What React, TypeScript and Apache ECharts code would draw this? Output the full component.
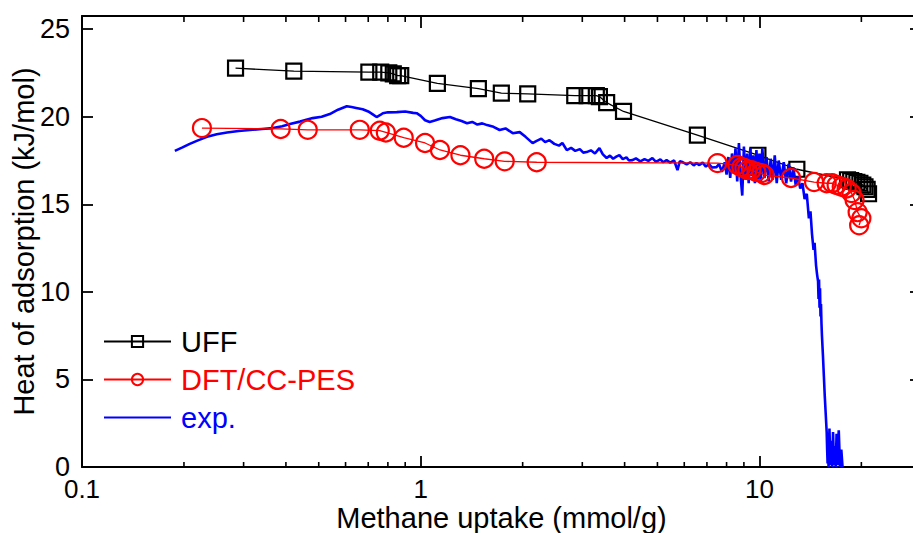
import React, { useEffect, useRef } from "react";
import * as echarts from "echarts";

const uffX = [0.284, 0.422, 0.703, 0.762, 0.805, 0.83, 0.855, 0.873, 1.12, 1.48, 1.73, 2.07, 2.85, 3.1, 3.3, 3.37, 3.54, 3.97, 6.56, 9.9, 12.9, 18.2, 18.6, 19.0, 19.4, 19.8, 20.2, 20.5, 20.8, 21.0];
const uffY = [22.77, 22.6, 22.55, 22.55, 22.5, 22.45, 22.35, 22.35, 21.9, 21.6, 21.35, 21.3, 21.2, 21.2, 21.2, 21.15, 20.8, 20.3, 18.95, 17.8, 17.0, 16.4, 16.35, 16.3, 16.25, 16.2, 16.1, 16.0, 15.85, 15.6];

const dftX = [0.226, 0.386, 0.464, 0.661, 0.757, 0.789, 0.891, 1.03, 1.14, 1.31, 1.54, 1.77, 2.2, 7.52, 8.61, 8.85, 9.03, 9.22, 9.47, 9.8, 10.14, 10.35, 12.4, 14.5, 15.8, 16.4, 16.9, 17.5, 18.1, 18.7, 19.1, 19.5, 20.0, 19.7];
const dftY = [19.35, 19.3, 19.25, 19.25, 19.2, 19.1, 18.8, 18.5, 18.1, 17.8, 17.6, 17.45, 17.4, 17.35, 17.24, 17.12, 17.07, 16.95, 16.95, 16.84, 16.78, 16.67, 16.5, 16.27, 16.2, 16.2, 16.1, 16.0, 15.9, 15.64, 15.24, 14.55, 14.2, 13.8];

const expX = [0.188, 0.198, 0.208, 0.22, 0.234, 0.25, 0.268, 0.29, 0.313, 0.34, 0.366, 0.39, 0.411, 0.44, 0.48, 0.51, 0.539, 0.57, 0.605, 0.625, 0.645, 0.674, 0.7, 0.72, 0.741, 0.76, 0.773, 0.8, 0.85, 0.9, 0.95, 0.973, 1.0, 1.03, 1.063, 1.1, 1.16, 1.22, 1.27, 1.32, 1.37, 1.42, 1.47, 1.52, 1.57, 1.64, 1.71, 1.78, 1.87, 1.96, 2.04, 2.14, 2.2, 2.27, 2.33, 2.4, 2.48, 2.56, 2.62, 2.7, 2.78, 2.86, 2.95, 3.02, 3.09, 3.18, 3.27, 3.37, 3.45, 3.54, 3.62, 3.7, 3.78, 3.86, 3.95, 4.05, 4.12, 4.22, 4.32, 4.45, 4.58, 4.7, 4.83, 4.95, 5.1, 5.2, 5.32, 5.45, 5.6, 5.73, 5.82, 5.93, 6.1, 6.25, 6.4, 6.52, 6.65, 6.8, 6.95, 7.1, 7.25, 7.47, 7.6, 7.75, 7.9, 8.0, 8.1, 8.2, 8.3, 8.4, 8.5, 8.6, 8.7, 8.8, 8.9, 9.0, 9.1, 9.2, 9.3, 9.4, 9.5, 9.6, 9.7, 9.8, 9.9, 10.0, 10.1, 10.2, 10.35, 10.5, 10.65, 10.8, 10.95, 11.1, 11.25, 11.4, 11.6, 11.8, 12.0, 12.2, 12.4, 12.6, 12.8, 13.0, 13.2, 13.4, 13.6, 13.8, 14.0, 14.15, 14.3, 14.45, 14.55, 14.7, 14.8, 14.9, 14.95, 15.0, 15.05, 15.1, 15.15, 15.2, 15.25, 15.3, 15.4, 15.5, 15.6, 15.7, 15.8, 15.85, 15.9, 15.95, 16.0, 16.1, 16.2, 16.3, 16.4, 16.5, 16.6, 16.7, 16.8, 16.9, 17.0, 17.15, 17.3, 17.45, 17.6];
const expY = [18.05, 18.25, 18.45, 18.65, 18.85, 19.0, 19.1, 19.18, 19.24, 19.3, 19.35, 19.45, 19.58, 19.72, 19.92, 20.0, 20.15, 20.4, 20.6, 20.55, 20.5, 20.43, 20.3, 20.15, 19.98, 20.1, 20.2, 20.25, 20.26, 20.3, 20.22, 20.2, 20.05, 19.8, 19.7, 19.78, 19.92, 19.98, 19.85, 19.75, 19.63, 19.7, 19.55, 19.62, 19.52, 19.42, 19.24, 19.33, 19.06, 19.12, 18.85, 18.49, 18.62, 18.75, 18.55, 18.66, 18.45, 18.35, 18.5, 18.09, 18.22, 18.05, 18.15, 17.95, 17.98, 18.08, 17.9, 18.21, 17.85, 17.64, 17.78, 17.6, 17.72, 17.81, 17.58, 17.68, 17.5, 17.52, 17.62, 17.45, 17.58, 17.48, 17.64, 17.42, 17.56, 17.4, 17.52, 17.38, 17.5, 16.95, 17.45, 17.41, 17.28, 17.4, 17.22, 17.35, 17.24, 17.38, 17.15, 17.3, 17.1, 17.12, 17.3, 16.85, 17.4, 16.7, 17.7, 16.5, 17.9, 16.8, 18.2, 16.3, 18.5, 16.6, 15.5, 18.3, 16.4, 17.9, 16.2, 18.2, 16.6, 17.8, 16.2, 18.1, 16.4, 17.9, 16.3, 18.2, 16.5, 17.7, 16.3, 17.6, 16.4, 17.8, 16.2, 17.5, 16.4, 17.4, 16.2, 17.3, 16.3, 17.1, 16.1, 16.6, 15.9, 16.2, 15.3, 15.6, 14.2, 14.6, 13.3, 12.4, 12.8, 11.5, 11.0, 10.6, 9.6, 10.7, 9.1, 10.2, 8.6, 9.3, 8.2, 7.5, 6.4, 5.2, 4.0, 3.0, 2.0, 1.0, 0.2, 1.8, 0.0, 2.2, 0.1, 1.5, 0.0, 2.0, 0.1, 1.2, 0.0, 1.9, 0.1, 2.1, 0.0, 1.0, 0.0];

const minorTicks = [0.2, 0.3, 0.4, 0.5, 0.6, 0.7, 0.8, 0.9, 2, 3, 4, 5, 6, 7, 8, 9, 20];

const FONT = "'Liberation Sans', Arial, Helvetica, sans-serif";

const zip = (xs: number[], ys: number[]) => xs.map((x, i) => [x, ys[i]]);

export default function App() {
  const ref = useRef<HTMLDivElement>(null);
  useEffect(() => {
    if (!ref.current) return;
    const chart = echarts.init(ref.current, undefined, { renderer: "svg" });
    const option: any = {
      animation: false,
      backgroundColor: "#ffffff",
      textStyle: { fontFamily: FONT },
      grid: { left: 82, right: -8, top: 16, bottom: 66, containLabel: false, outerBoundsMode: "none" },
      legend: {
        orient: "vertical",
        left: 98,
        top: 322,
        itemGap: 9,
        itemWidth: 67,
        itemHeight: 14,
        textStyle: { fontSize: 29, fontFamily: FONT, padding: [0, 0, 0, 5] },
        data: [
          { name: "UFF", textStyle: { color: "#000000" } },
          { name: "DFT/CC-PES", textStyle: { color: "#ff0000" } },
          { name: "exp.", textStyle: { color: "#0000ff" } },
        ],
      },
      xAxis: [
        {
          type: "log",
          logBase: 10,
          min: 0.1,
          max: 30,
          position: "bottom",
          name: "Methane uptake (mmol/g)",
          nameLocation: "middle",
          nameGap: 39,
          nameMoveOverlap: false,
          nameTextStyle: { fontSize: 29, lineHeight: 24, color: "#000", fontFamily: FONT },
          axisLine: { show: true, onZero: false, lineStyle: { color: "#000", width: 2 } },
          axisTick: { show: true, inside: true, length: 11, lineStyle: { color: "#000", width: 1.8 } },
          axisLabel: { fontSize: 26, lineHeight: 22, color: "#000", margin: 11, showMaxLabel: false, fontFamily: FONT },
          splitLine: { show: false },
        },
        {
          type: "log",
          logBase: 10,
          min: 0.1,
          max: 30,
          position: "top",
          axisLine: { show: true, onZero: false, lineStyle: { color: "#000", width: 2 } },
          axisTick: { show: true, inside: true, length: 12, lineStyle: { color: "#000", width: 1.8 } },
          axisLabel: { show: false },
          splitLine: { show: false },
        },
      ],
      yAxis: [
        {
          type: "value",
          min: 0,
          max: 25.75,
          interval: 5,
          position: "left",
          name: "Heat of adsorption (kJ/mol)",
          nameLocation: "middle",
          nameGap: 44,
          nameRotate: 90,
          nameMoveOverlap: false,
          nameTextStyle: { fontSize: 29, color: "#000", fontFamily: FONT },
          axisLine: { show: true, onZero: false, lineStyle: { color: "#000", width: 2 } },
          axisTick: { show: true, inside: true, length: 11, lineStyle: { color: "#000", width: 1.8 } },
          axisLabel: { fontSize: 27, lineHeight: 20, color: "#000", margin: 12, showMaxLabel: false, fontFamily: FONT },
          splitLine: { show: false },
        },
        {
          type: "value",
          min: 0,
          max: 25.75,
          interval: 5,
          position: "right",
          axisLine: { show: true, onZero: false, lineStyle: { color: "#000", width: 2 } },
          axisTick: { show: true, inside: true, length: 11, lineStyle: { color: "#000", width: 1.8 } },
          axisLabel: { show: false },
          splitLine: { show: false },
        },
      ],
      series: [
        {
          name: "minor",
          type: "custom",
          xAxisIndex: 0,
          yAxisIndex: 0,
          silent: true,
          data: minorTicks.map((v) => [v, 0]),
          encode: { x: 0, y: 1 },
          renderItem: (params: any, api: any) => {
            const p = api.coord([api.value(0), 0]);
            const cs = params.coordSys;
            const bottom = cs.y + cs.height;
            return {
              type: "group",
              children: [
                { type: "line", shape: { x1: p[0], y1: bottom, x2: p[0], y2: bottom - 5 }, style: { stroke: "#000", lineWidth: 1.6 } },
                { type: "line", shape: { x1: p[0], y1: cs.y, x2: p[0], y2: cs.y + 6 }, style: { stroke: "#000", lineWidth: 1.6 } },
              ],
            };
          },
        },
        {
          name: "UFF",
          type: "line",
          data: zip(uffX, uffY),
          symbol: "rect",
          symbolSize: 15,
          lineStyle: { color: "#000000", width: 1.3 },
          itemStyle: { color: "rgba(0,0,0,0)", borderColor: "#000000", borderWidth: 2.2 },
          z: 3,
        },
        {
          name: "exp.",
          type: "line",
          data: zip(expX, expY),
          symbol: "none",
          lineStyle: { color: "#0000ff", width: 2.6 },
          itemStyle: { color: "rgba(0,0,0,0)", borderWidth: 0 },
          z: 4,
        },
        {
          name: "DFT/CC-PES",
          type: "line",
          data: zip(dftX, dftY),
          symbol: "circle",
          symbolSize: 18,
          lineStyle: { color: "#ff0000", width: 1.3 },
          itemStyle: { color: "rgba(0,0,0,0)", borderColor: "#ff0000", borderWidth: 2.2 },
          z: 5,
        },
      ],
    };
    chart.setOption(option);
    return () => chart.dispose();
  }, []);
  return <div ref={ref} style={{ position: "fixed", left: 0, top: 0, width: 913, height: 533 }} />;
}
